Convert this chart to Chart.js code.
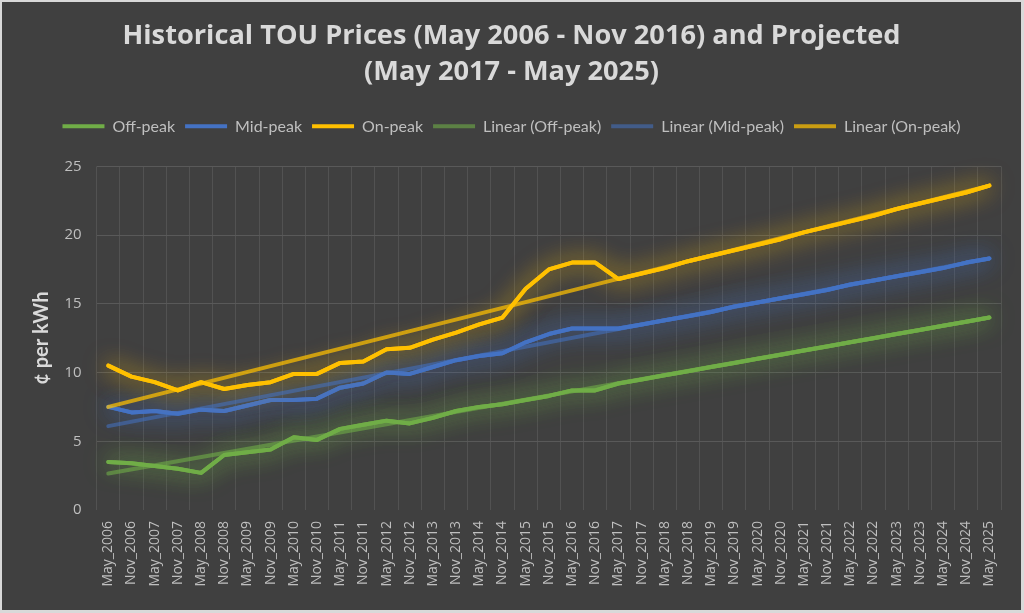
<!DOCTYPE html>
<html>
<head>
<meta charset="utf-8">
<script src="https://cdn.jsdelivr.net/npm/chart.js@4"></script>
<style>
    html, body { margin: 0; padding: 0; background: #d9d9d9; }
    #wrap { position: absolute; left: 2px; top: 2px; width: 1019px; height: 608px; background: #404040; }
</style>
</head>
<body>
<div id="wrap"><canvas id="chart"></canvas></div>
<script>
// etiquetas del eje x (semestres)
const periods = [
    'May_2006','Nov_2006','May_2007','Nov_2007','May_2008','Nov_2008','May_2009','Nov_2009',
    'May_2010','Nov_2010','May_2011','Nov_2011','May_2012','Nov_2012','May_2013','Nov_2013',
    'May_2014','Nov_2014','May_2015','Nov_2015','May_2016','Nov_2016','May_2017','Nov_2017',
    'May_2018','Nov_2018','May_2019','Nov_2019','May_2020','Nov_2020','May_2021','Nov_2021',
    'May_2022','Nov_2022','May_2023','Nov_2023','May_2024','Nov_2024','May_2025'
]

// precios en centavos por kWh
const offPeak = [3.5,3.4,3.2,3.0,2.7,4.0,4.2,4.4,5.3,5.1,5.9,6.2,6.5,6.3,6.7,7.2,7.5,7.7,8.0,8.3,8.7,8.7,
    9.2,9.5,9.8,10.1,10.4,10.7,11.0,11.3,11.6,11.9,12.2,12.5,12.8,13.1,13.4,13.7,14.0]
const midPeak = [7.5,7.1,7.2,7.0,7.3,7.2,7.6,8.0,8.0,8.1,8.9,9.2,10.0,9.9,10.4,10.9,11.2,11.4,12.2,12.8,13.2,13.2,
    13.2,13.5,13.8,14.1,14.4,14.8,15.1,15.4,15.7,16.0,16.4,16.7,17.0,17.3,17.6,18.0,18.3]
const onPeak = [10.5,9.7,9.3,8.7,9.3,8.8,9.1,9.3,9.9,9.9,10.7,10.8,11.7,11.8,12.4,12.9,13.5,14.0,16.1,17.5,18.0,18.0,
    16.8,17.2,17.6,18.1,18.5,18.9,19.3,19.7,20.2,20.6,21.0,21.4,21.9,22.3,22.7,23.1,23.6]

// tendencias lineales: valor al inicio y al final
const offPeakTrend = [2.65, 14.0]
const midPeakTrend = [6.1, 18.3]
const onPeakTrend = [7.5, 23.6]

const yTicks = [0, 5, 10, 15, 20, 25]

function trendPoints(ends){
    return [{x: periods[0], y: ends[0]}, {x: periods[periods.length-1], y: ends[1]}]
}

// brillo alrededor de las series
const glowPlugin = {
    id: 'glow',
    beforeDatasetDraw(chart, args){
        const ds = chart.data.datasets[args.index]
        chart.ctx.save()
        if(ds.glow){
            chart.ctx.shadowColor = ds.glow
            chart.ctx.shadowBlur = 24
        }
    },
    afterDatasetDraw(chart, args){
        const ds = chart.data.datasets[args.index]
        if(ds.glow){
            // segunda pasada para reforzar el brillo
            args.meta.controller.draw()
        }
        chart.ctx.restore()
    }
}

// espacio extra debajo de la leyenda
const legendGap = {
    id: 'legendGap',
    beforeInit(chart){
        const fit = chart.legend.fit
        chart.legend.fit = function(){
            fit.bind(chart.legend)()
            this.height += 22
        }
    }
}

const labelColor = '#bfbfbf'

new Chart(document.getElementById('chart'), {
    type: 'line',
    data: {
        labels: periods,
        datasets: [
            {label: 'Off-peak', data: offPeak, borderColor: '#70ad47', backgroundColor: '#70ad47', glow: 'rgba(112,173,71,0.85)', order: 6},
            {label: 'Mid-peak', data: midPeak, borderColor: '#4472c4', backgroundColor: '#4472c4', glow: 'rgba(68,114,196,0.85)', order: 5},
            {label: 'On-peak', data: onPeak, borderColor: '#ffc000', backgroundColor: '#ffc000', glow: 'rgba(255,192,0,0.65)', order: 4},
            {label: 'Linear (Off-peak)', data: trendPoints(offPeakTrend), borderColor: 'rgba(112,173,71,0.6)', backgroundColor: 'rgba(112,173,71,0.6)', order: 3},
            {label: 'Linear (Mid-peak)', data: trendPoints(midPeakTrend), borderColor: 'rgba(68,114,196,0.55)', backgroundColor: 'rgba(68,114,196,0.55)', order: 2},
            {label: 'Linear (On-peak)', data: trendPoints(onPeakTrend), borderColor: 'rgba(255,192,0,0.72)', backgroundColor: 'rgba(255,192,0,0.72)', order: 1}
        ]
    },
    options: {
        responsive: true,
        maintainAspectRatio: false,
        animation: false,
        layout: {padding: 0},
        elements: {
            point: {radius: 0, hoverRadius: 0, borderWidth: 4},
            line: {borderWidth: 4, tension: 0, fill: false, borderCapStyle: 'round', borderJoinStyle: 'round'}
        },
        plugins: {
            title: {
                display: true,
                text: ['Historical TOU Prices (May 2006 - Nov 2016) and Projected', '(May 2017 - May 2025)'],
                color: '#d9d9d9',
                font: {family: 'Open Sans', size: 27.2, weight: 'bold', lineHeight: 1.33},
                padding: {top: 16, bottom: 18}
            },
            legend: {
                position: 'top',
                labels: {
                    color: labelColor,
                    font: {family: 'Lato', size: 16},
                    usePointStyle: true,
                    pointStyle: 'line',
                    pointStyleWidth: 42,
                    padding: 10,
                    sort: (a, b) => a.datasetIndex - b.datasetIndex
                }
            },
            tooltip: {enabled: false}
        },
        scales: {
            x: {
                offset: true,
                grid: {offset: true, color: '#525252', drawTicks: false},
                border: {display: false},
                ticks: {
                    color: labelColor,
                    font: {family: 'Open Sans', size: 14},
                    maxRotation: 90,
                    minRotation: 90,
                    autoSkip: false,
                    padding: 11
                },
                afterFit(scale){ scale.height = 100 }
            },
            y: {
                min: 0,
                max: 25,
                afterBuildTicks(scale){ scale.ticks = yTicks.map(v => ({value: v})) },
                grid: {
                    color: ctx => ctx.tick && ctx.tick.value === 0 ? 'rgba(0,0,0,0)' : '#595959',
                    drawTicks: false
                },
                border: {display: false},
                ticks: {
                    color: labelColor,
                    font: {family: 'Open Sans', size: 15},
                    padding: 15
                },
                title: {
                    display: true,
                    text: '¢ per kWh',
                    color: '#d9d9d9',
                    font: {family: 'Lato', size: 20, weight: 'bold'},
                    padding: {top: 28, bottom: 0}
                },
                afterFit(scale){ scale.width = 94.7 }
            },
            // margen derecho vacio
            yRight: {
                position: 'right',
                grid: {display: false, drawTicks: false},
                border: {display: false},
                ticks: {display: false},
                afterFit(scale){ scale.width = 20 }
            }
        }
    },
    plugins: [glowPlugin, legendGap]
})
</script>
</body>
</html>
